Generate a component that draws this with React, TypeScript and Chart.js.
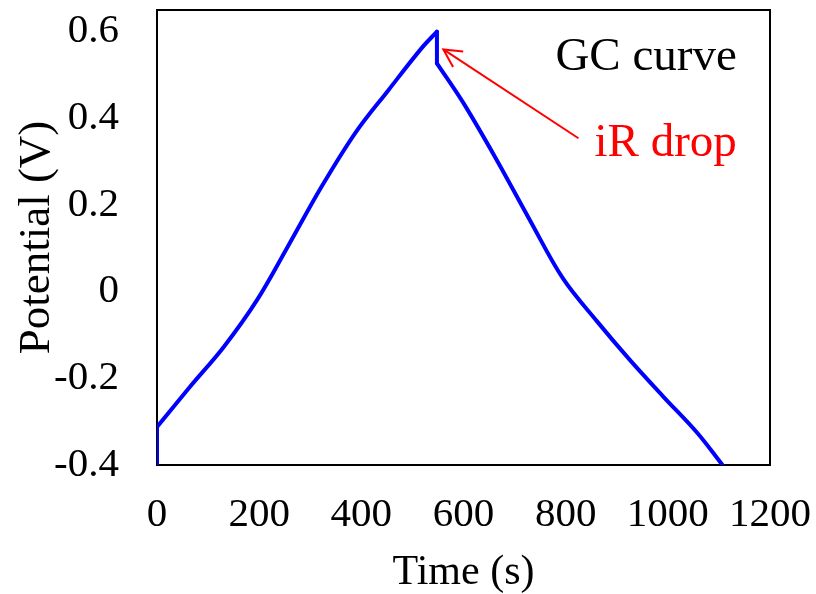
import React, { useEffect, useRef } from 'react';
import { Chart, registerables } from 'chart.js';

Chart.register(...registerables);

// Galvanostatic charge/discharge curve
const chargeTime = [0, 65, 131, 196, 257, 322, 388, 453, 518, 548];
const chargeV = [-0.312, -0.219, -0.127, -0.019, 0.106, 0.242, 0.366, 0.465, 0.562, 0.6];
const dischargeTime = [548, 600, 665, 730, 795, 861, 926, 991, 1057, 1107];
const dischargeV = [0.527, 0.435, 0.304, 0.165, 0.03, -0.068, -0.158, -0.242, -0.325, -0.4];
const startTime = 0;
const startV = -0.4;

const xTicks = [0, 200, 400, 600, 800, 1000, 1200];
const yTicks = [-0.4, -0.2, 0, 0.2, 0.4, 0.6];
const yTickLabels = ['-0.4', '-0.2', '0', '0.2', '0.4', '0.6'];
const xRange = [0, 1200];
const yRange = [-0.4, 0.65];

const xTitle = 'Time (s)';
const yTitle = 'Potential (V)';
const curveLabel = 'GC curve';
const dropLabel = 'iR drop';
// annotation anchors in data units [time, potential]
const curveLabelAt = [1135, 0.54];
const dropLabelAt = [1135, 0.341];
const arrowFrom = [825, 0.354];
const arrowTo = [560.5, 0.559];

const FONT = '"Liberation Serif", "Times New Roman", Times, serif';
const BLUE = '#0000FF';

const boxAndNotes = {
  id: 'boxAndNotes',
  beforeDatasetsDraw(chart: any) {
    const { ctx, chartArea } = chart;
    const { left, top, right, bottom } = chartArea;
    ctx.save();
    ctx.strokeStyle = '#000000';
    ctx.lineWidth = 2;
    ctx.strokeRect(left, top, right - left, bottom - top);
    ctx.restore();
  },
  afterDatasetsDraw(chart: any) {
    const { ctx } = chart;
    const xs = chart.scales.x;
    const ys = chart.scales.y;
    ctx.save();
    ctx.font = `47px ${FONT}`;
    ctx.textAlign = 'right';
    ctx.textBaseline = 'middle';
    ctx.fillStyle = '#000000';
    ctx.fillText(curveLabel, xs.getPixelForValue(curveLabelAt[0]), ys.getPixelForValue(curveLabelAt[1]));
    ctx.fillStyle = '#FF0000';
    ctx.fillText(dropLabel, xs.getPixelForValue(dropLabelAt[0]), ys.getPixelForValue(dropLabelAt[1]));

    const x1 = xs.getPixelForValue(arrowFrom[0]);
    const y1 = ys.getPixelForValue(arrowFrom[1]);
    const x2 = xs.getPixelForValue(arrowTo[0]);
    const y2 = ys.getPixelForValue(arrowTo[1]);
    ctx.strokeStyle = '#FF0000';
    ctx.lineWidth = 2;
    ctx.beginPath();
    ctx.moveTo(x1, y1);
    ctx.lineTo(x2, y2);
    ctx.stroke();
    const back = Math.atan2(y1 - y2, x1 - x2);
    const spread = (27.5 * Math.PI) / 180;
    const len = 20;
    ctx.beginPath();
    ctx.moveTo(x2 + len * Math.cos(back - spread), y2 + len * Math.sin(back - spread));
    ctx.lineTo(x2, y2);
    ctx.lineTo(x2 + len * Math.cos(back + spread), y2 + len * Math.sin(back + spread));
    ctx.stroke();
    ctx.restore();
  },
};

function seg(data: { x: number; y: number }[], tension: number) {
  return {
    data,
    borderColor: BLUE,
    borderWidth: 4,
    borderCapStyle: 'round' as const,
    borderJoinStyle: 'round' as const,
    pointRadius: 0,
    tension,
    fill: false,
  };
}

export default function App() {
  const canvasRef = useRef<HTMLCanvasElement | null>(null);

  useEffect(() => {
    document.body.style.margin = '0';
    const canvas = canvasRef.current;
    if (!canvas) return;
    const charge = chargeTime.map((t, i) => ({ x: t, y: chargeV[i] }));
    const discharge = dischargeTime.map((t, i) => ({ x: t, y: dischargeV[i] }));
    const jumpStart = [
      { x: startTime, y: startV },
      { x: chargeTime[0], y: chargeV[0] },
    ];
    const lastC = chargeTime.length - 1;
    const iRdrop = [
      { x: chargeTime[lastC], y: chargeV[lastC] },
      { x: dischargeTime[0], y: dischargeV[0] },
    ];
    const chart = new Chart(canvas, {
      type: 'line',
      data: {
        datasets: [seg(jumpStart, 0), seg(charge, 0.35), seg(iRdrop, 0), seg(discharge, 0.35)],
      },
      options: {
        animation: false,
        responsive: false,
        devicePixelRatio: 1,
        layout: { padding: { left: 0, top: 10, right: 46, bottom: 0 } },
        plugins: { legend: { display: false }, tooltip: { enabled: false } },
        scales: {
          x: {
            type: 'linear',
            min: xRange[0],
            max: xRange[1],
            grid: { display: false, drawTicks: false },
            border: { display: false },
            afterBuildTicks: (s: any) => {
              s.ticks = xTicks.map((v) => ({ value: v }));
            },
            ticks: {
              autoSkip: false,
              maxRotation: 0,
              padding: 26,
              color: '#000000',
              font: { family: FONT, size: 41 },
              callback: (v: any) => String(v),
            },
            title: {
              display: true,
              text: xTitle,
              color: '#000000',
              font: { family: FONT, size: 42, lineHeight: 1 },
              padding: { top: 0, bottom: 0 },
            },
            afterFit: (s: any) => {
              s.height = 129;
              s.paddingLeft = 0;
              s.paddingRight = 0;
              s.paddingTop = 0;
              s.paddingBottom = 0;
            },
          },
          y: {
            type: 'linear',
            min: yRange[0],
            max: yRange[1],
            grid: { display: false, drawTicks: false },
            border: { display: false },
            afterBuildTicks: (s: any) => {
              s.ticks = yTicks.map((v) => ({ value: v }));
            },
            ticks: {
              autoSkip: false,
              padding: 38,
              color: '#000000',
              font: { family: FONT, size: 41 },
              callback: (v: any) => {
                const i = yTicks.indexOf(v);
                return i >= 0 ? yTickLabels[i] : '';
              },
            },
            title: {
              display: true,
              text: yTitle,
              color: '#000000',
              font: { family: FONT, size: 45 },
              padding: { top: 10, bottom: 0 },
            },
            afterFit: (s: any) => {
              s.width = 157;
              s.paddingLeft = 0;
              s.paddingRight = 0;
              s.paddingTop = 0;
              s.paddingBottom = 0;
            },
          },
        },
      },
      plugins: [boxAndNotes],
    });
    return () => chart.destroy();
  }, []);

  return (
    <div style={{ position: 'fixed', left: 0, top: 0, width: 816, height: 594, background: '#ffffff' }}>
      <canvas ref={canvasRef} width={816} height={594} style={{ width: 816, height: 594 }} />
    </div>
  );
}
